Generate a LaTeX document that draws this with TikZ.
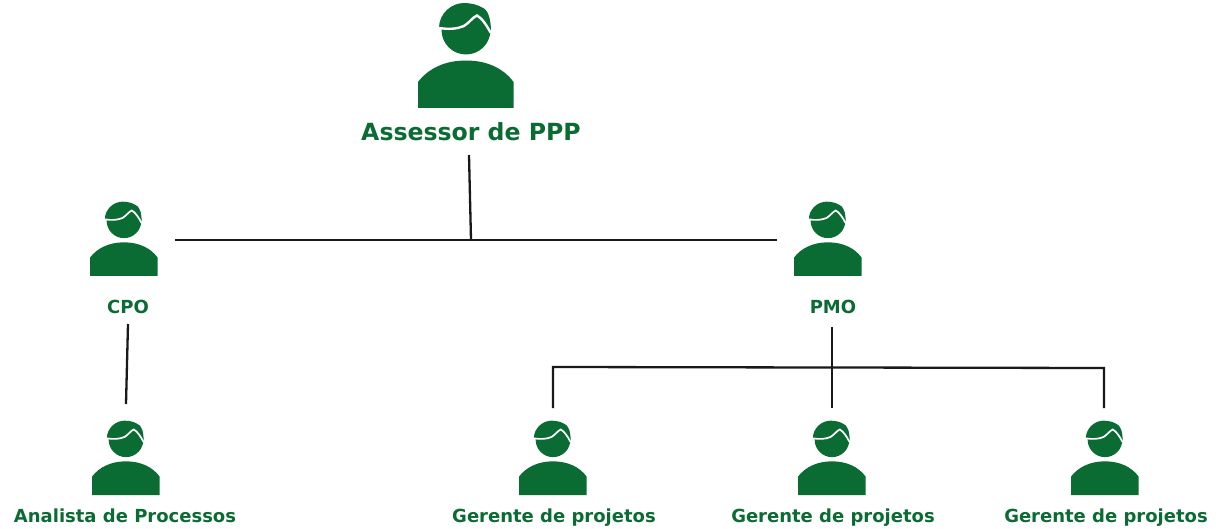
\documentclass[tikz,border=0pt]{standalone}
\usepackage{fontspec}
\setmainfont{DejaVu Sans}
\definecolor{pgreen}{HTML}{0A6B33}
\tikzset{
  x=1pt,y=-1pt,
  hairline/.style={line width=1.7pt},
  person/.pic={
    \fill[pgreen] (-48,0) -- (-48,-26) .. controls (-38,-39) and (-22,-47.5) .. (0,-47.5)
      .. controls (22,-47.5) and (38,-39) .. (47.5,-26) -- (47.5,0) -- cycle;
    \fill[pgreen] (0,-78) circle[radius=24.5];
    \fill[pgreen] (-27,-80) .. controls (-27,-95) and (-14,-105) .. (-2,-105)
      .. controls (5,-105) and (12,-103) .. (15,-101)
      .. controls (22,-99) and (25,-90) .. (25,-75) -- (0,-70) -- cycle;
    \draw[white,hairline,line cap=round] (-27,-80) .. controls (-17,-78.5) and (-9,-79) .. (-2,-82)
      .. controls (3,-85) and (7,-91) .. (11,-92.5) .. controls (16,-90) and (21,-82) .. (24.5,-75.5);
  },
  plabel/.style={font=\bfseries\fontsize{18pt}{21pt}\selectfont,text=pgreen,inner sep=0pt,anchor=center},
  toplabel/.style={font=\bfseries\fontsize{23.6pt}{27pt}\selectfont,text=pgreen,inner sep=0pt,anchor=center},
  conn/.style={draw=black!90,line width=2.3pt},
}
\begin{document}
\begin{tikzpicture}
\useasboundingbox (0,0) rectangle (1216,529);
\pic[hairline/.style={line width=2.4pt}] at (466,108) {person};
\pic[scale=.708] at (124,276) {person};
\pic[scale=.708] at (828,276) {person};
\pic[scale=.708] at (126,495) {person};
\pic[scale=.708] at (553,495) {person};
\pic[scale=.708] at (832,495) {person};
\pic[scale=.708] at (1105,495) {person};
\node[toplabel] (assessor) at (471,132) {Assessor de PPP};
\node[plabel] (cpo) at (128,306.5) {CPO};
\node[plabel] (pmo) at (833,306.5) {PMO};
\node[plabel] (analista) at (125,516) {Analista de Processos};
\node[plabel] (g1) at (554,518) {Gerente de projetos};
\node[plabel] (g2) at (833,518) {Gerente de projetos};
\node[plabel] (g3) at (1106,518) {Gerente de projetos};
\coordinate (a0) at (469,155);
\coordinate (a1) at (471,240);
\coordinate (hl) at (175,240);
\coordinate (hr) at (777,240);
\coordinate (c0) at (128,324);
\coordinate (c1) at (126,404);
\coordinate (p0) at (832,327);
\coordinate (p1) at (832,408);
\coordinate (b1) at (553,408);
\coordinate (b2) at (553,367);
\coordinate (b3) at (1104,368);
\coordinate (b4) at (1104,408);
\draw[conn] (a0) -- (a1);
\draw[conn] (hl) -- (hr);
\draw[conn] (c0) -- (c1);
\draw[conn] (p0) -- (p1);
\draw[conn] (b1) -- (b2) -- (b3) -- (b4);
\end{tikzpicture}
\end{document}
